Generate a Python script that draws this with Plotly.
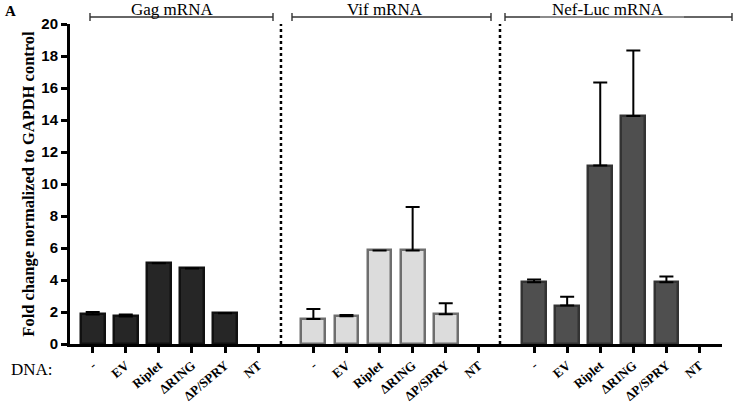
import plotly.graph_objects as go

conditions = ["-", "EV", "Riplet", "ΔRING", "ΔP/SPRY", "NT"]
groups = ["Gag mRNA", "Vif mRNA", "Nef-Luc mRNA"]

gag_vals = [1.85, 1.72, 5.05, 4.72, 1.92, None]
gag_err = [0.15, 0.13, None, None, None, None]
vif_vals = [1.56, 1.73, 5.85, 5.85, 1.86, None]
vif_err = [0.62, 0.08, None, 2.72, 0.68, None]
nef_vals = [3.86, 2.4, 11.15, 14.25, 3.86, None]
nef_err = [0.17, 0.55, 5.2, 4.1, 0.36, None]

series_vals = [gag_vals, vif_vals, nef_vals]
series_err = [gag_err, vif_err, nef_err]
fills = ["#262626", "#dcdcdc", "#4f4f4f"]
outlines = ["#111111", "#6e6e6e", "#333333"]

GROUP_STEP = 6.67
fig = go.Figure()
tickvals, ticktext = [], []
for g in range(3):
    xs = [i + g * GROUP_STEP for i in range(len(conditions))]
    tickvals += xs
    ticktext += conditions
    fig.add_trace(go.Bar(
        x=xs, y=series_vals[g], width=0.72,
        marker=dict(color=fills[g], line=dict(color=outlines[g], width=2.5)),
        error_y=dict(type="data", symmetric=False, array=series_err[g],
                     arrayminus=[0] * len(conditions), color="black",
                     thickness=2, width=7, visible=True),
        showlegend=False,
    ))

W, H = 733, 403
L, R, T, B = 70, 11, 24, 59
pw, ph = W - L - R, H - T - B
def px(x):
    return (x - L) / pw
def py(y):
    return (H - B - y) / ph

shapes = []
# dotted separators
for xd in [5.69, 12.31]:
    shapes.append(dict(type="line", xref="x", yref="paper", x0=xd, x1=xd, y0=0, y1=1,
                       line=dict(color="black", width=2.5, dash="dot")))
# group brackets
brackets = [(90, 273), (292, 491), (505, 732)]
centers = [172, 385, 608]
annotations = []
for (a, b), c, name in zip(brackets, centers, groups):
    shapes.append(dict(type="line", xref="paper", yref="paper", x0=px(a), x1=px(b),
                       y0=py(17), y1=py(17), line=dict(color="#333333", width=1.4)))
    for e in (a, b):
        shapes.append(dict(type="line", xref="paper", yref="paper", x0=px(e), x1=px(e),
                           y0=py(13), y1=py(21), line=dict(color="#333333", width=1.4)))
    annotations.append(dict(text=name, xref="paper", yref="paper", x=px(c), y=py(9),
                            showarrow=False, xanchor="center", yanchor="middle",
                            font=dict(family="Liberation Serif", size=17, color="black")))
# lighter middle part of the Nef-Luc bracket
shapes.append(dict(type="line", xref="paper", yref="paper", x0=px(540), x1=px(684),
                   y0=py(17), y1=py(17), line=dict(color="#9a9a9a", width=1.6)))

annotations.append(dict(text="<b>A</b>", xref="paper", yref="paper", x=px(3), y=py(11),
                        showarrow=False, xanchor="left", yanchor="middle",
                        font=dict(family="Liberation Serif", size=15, color="black")))
annotations.append(dict(text="DNA:", xref="paper", yref="paper", x=px(9), y=py(369),
                        showarrow=False, xanchor="left", yanchor="middle",
                        font=dict(family="Liberation Serif", size=17, color="black")))

fig.update_layout(
    width=W, height=H,
    margin=dict(l=L, r=R, t=T, b=B),
    plot_bgcolor="white", paper_bgcolor="white",
    bargap=0,
    shapes=shapes, annotations=annotations,
    xaxis=dict(range=[-0.686, 19.02], tickvals=tickvals, ticktext=ticktext, automargin=False,
               tickangle=-40, ticks="outside", ticklen=6, tickwidth=2.5, tickcolor="black",
               showline=True, linecolor="black", linewidth=3, showgrid=False, zeroline=False,
               tickfont=dict(family="Liberation Serif", size=13, color="black", weight=700)),
    yaxis=dict(range=[0, 20], tickvals=list(range(0, 21, 2)), automargin=False,
               ticks="outside", ticklen=6, tickwidth=2.5, tickcolor="black",
               showline=True, linecolor="black", linewidth=3, showgrid=False, zeroline=False,
               tickfont=dict(family="Liberation Sans", size=15, color="black", weight=700),
               title=dict(text="Fold change normalized to GAPDH control", standoff=3,
                          font=dict(family="Liberation Serif", size=16.5, color="black", weight=700))),
)

fig.write_html("out.html", config={"displayModeBar": False},
               post_script="document.body.style.margin='0';")
